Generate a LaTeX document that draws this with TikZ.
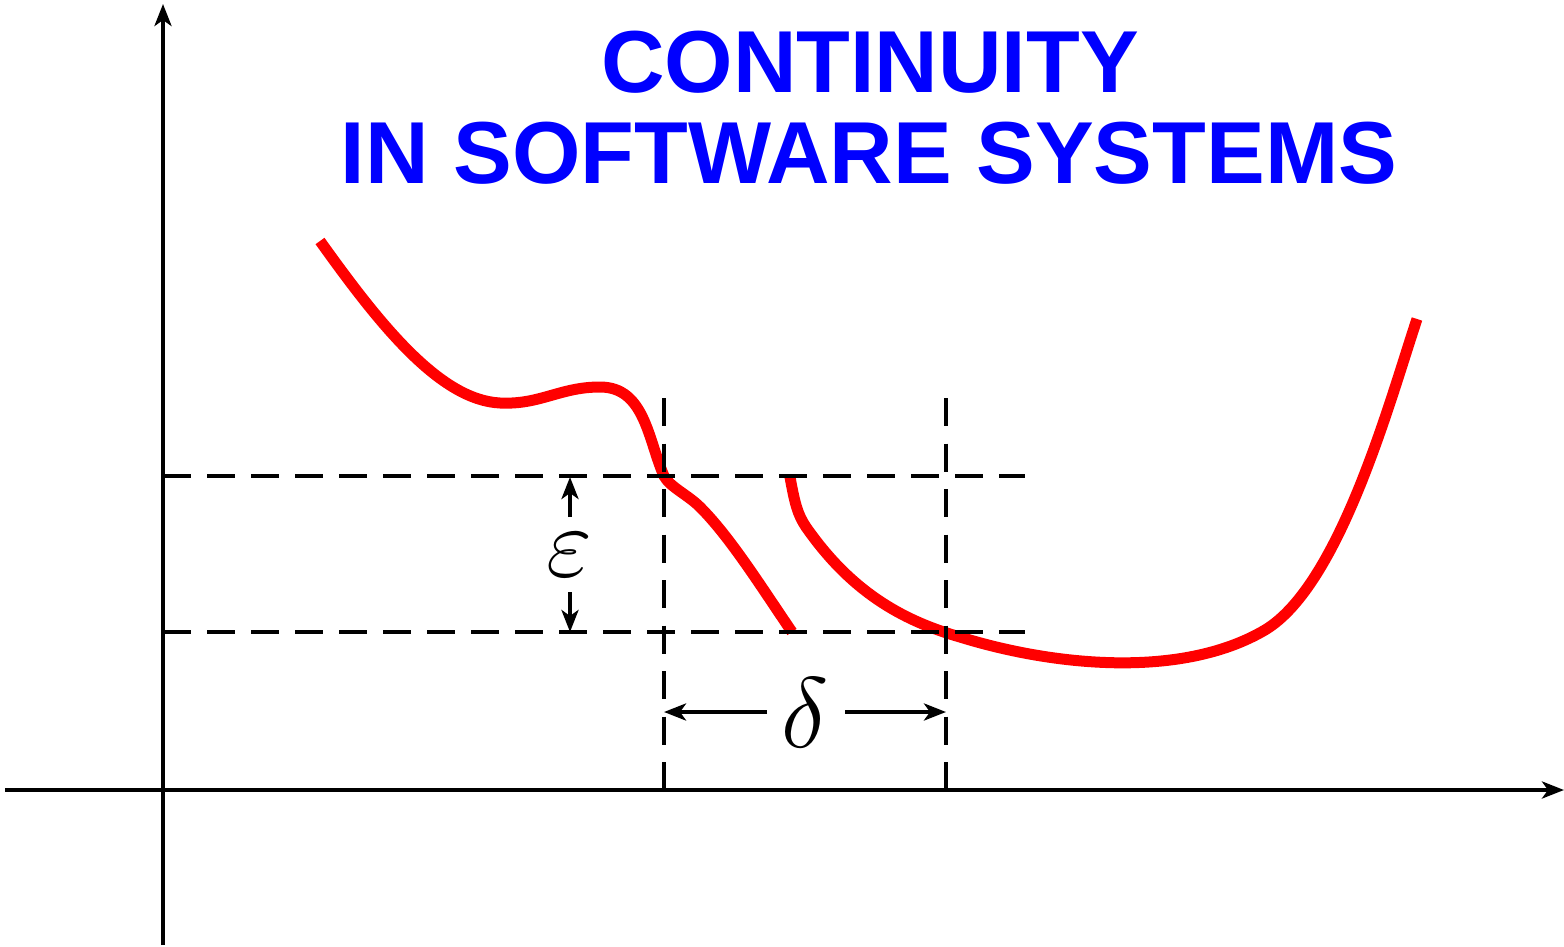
\RequirePackage{fix-cm}
\documentclass[tikz,border=0pt]{standalone}
\usepackage{fontspec}
\newfontfamily\titlefont{Liberation Sans}
\usetikzlibrary{arrows.meta}
\definecolor{titleblue}{RGB}{0,0,255}
\definecolor{curvered}{RGB}{255,0,0}
\tikzset{
  axisline/.style={line width=4.5pt, -{Stealth[length=22pt,width=17pt,inset=6pt]}},
  hguide/.style={line width=4.5pt, dash pattern=on 28pt off 16pt},
  vguide/.style={line width=4.5pt, dash pattern=on 28pt off 17.5pt},
  dimarrow/.style={line width=4.5pt, -{Stealth[length=22pt,width=17pt,inset=6pt]}},
  curve/.style={line width=11pt, curvered},
  titletext/.style={inner sep=0pt, anchor=base, text=titleblue, font=\titlefont\bfseries\fontsize{88}{88}\selectfont},
  mathlabel/.style={inner sep=0pt, font=\fontsize{100}{100}\selectfont},
}
\begin{document}
\begin{tikzpicture}[x=1pt,y=-1pt]
\useasboundingbox (0,0) rectangle (1564,947);
% curves
\draw[curve] (320,241) .. controls (380,325) and (440,400) .. (500,403)
  .. controls (540,405) and (560,387) .. (600,387)
  .. controls (645,387) and (648,440) .. (664,476)
  .. controls (670,487) and (688,495) .. (700,507)
  .. controls (730,537) and (760,585) .. (792,632);
\draw[curve] (790,477) .. controls (795,505) and (798,515) .. (806,527)
  .. controls (850,590) and (900,620) .. (960,637)
  .. controls (1050,665) and (1180,680) .. (1265,630)
  .. controls (1340,585) and (1390,400) .. (1417,319);
% guide lines
\coordinate (h1a) at (163,476); \coordinate (h1b) at (1025,476);
\coordinate (h2a) at (163,632); \coordinate (h2b) at (1025,632);
\coordinate (v1a) at (664,398); \coordinate (v1b) at (664,790);
\coordinate (v2a) at (946,398); \coordinate (v2b) at (946,790);
\draw[hguide] (h1a) -- (h1b);
\draw[hguide] (h2a) -- (h2b);
\draw[vguide] (v1a) -- (v1b);
\draw[vguide] (v2a) -- (v2b);
% axes
\coordinate (yb) at (163,945); \coordinate (yt) at (163,4);
\coordinate (xl) at (5,790); \coordinate (xr) at (1564,790);
\draw[axisline] (yb) -- (yt);
\draw[axisline] (xl) -- (xr);
% labels
\node[mathlabel] (eps) at (569,555) {$\varepsilon$};
\node[mathlabel] (del) at (805,713) {$\delta$};
\coordinate (e1s) at (570,517); \coordinate (e1t) at (570,477);
\coordinate (e2s) at (570,592); \coordinate (e2t) at (570,632);
\coordinate (d1s) at (767,712); \coordinate (d1t) at (664,712);
\coordinate (d2s) at (845,712); \coordinate (d2t) at (946,712);
\draw[dimarrow] (e1s) -- (e1t);
\draw[dimarrow] (e2s) -- (e2t);
\draw[dimarrow] (d1s) -- (d1t);
\draw[dimarrow] (d2s) -- (d2t);
% title
\node[titletext] (t1) at (870,93) {CONTINUITY};
\node[titletext] (t2) at (869,183) {IN SOFTWARE SYSTEMS};
\end{tikzpicture}
\end{document}
